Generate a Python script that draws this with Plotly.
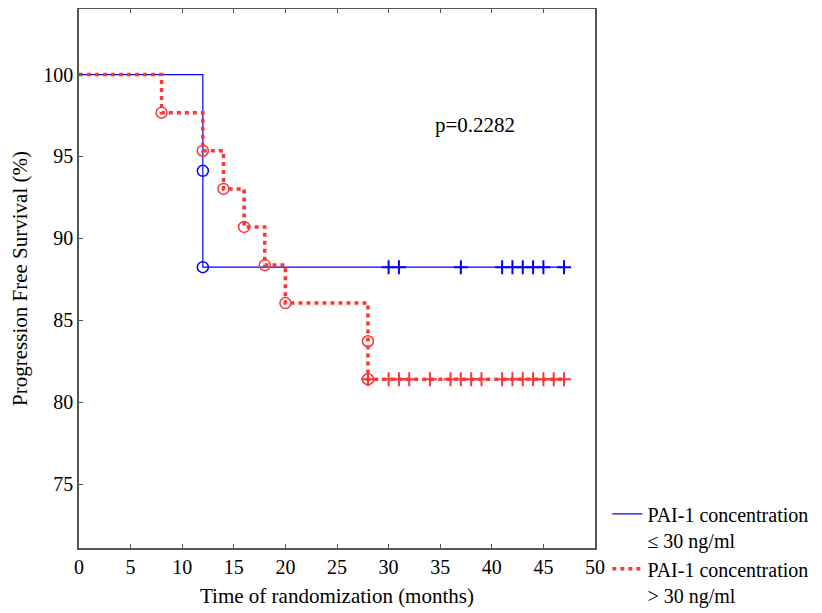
import plotly.graph_objects as go

# ---- data ----
blue_name = "PAI-1 concentration<br>≤ 30 ng/ml"
red_name = "PAI-1 concentration<br>> 30 ng/ml"

blue_event_t = [12, 12]
blue_event_s = [94.12, 88.24]
blue_end_t = 47
blue_cens_t = [30, 31, 37, 41, 42, 43, 44, 45, 47]

red_event_t = [8, 12, 14, 16, 18, 20, 28, 28]
red_event_s = [97.67, 95.35, 93.02, 90.70, 88.37, 86.05, 83.72, 81.40]
red_end_t = 47
red_cens_t = [28, 30, 31, 32, 34, 36, 37, 38, 39, 41, 42, 43, 44, 45, 46, 47]

x_ticks = list(range(0, 51, 5))
y_ticks = [75, 80, 85, 90, 95, 100]
p_text = "p=0.2282"

BLUE = "#0000ff"
RED = "#ff3535"
FONT = "Liberation Serif"

fig = go.Figure()

def step(ev_t, ev_s, end_t):
    x = [0] + ev_t + [end_t]
    y = [100] + ev_s + [ev_s[-1]]
    return x, y

bx, by = step(blue_event_t, blue_event_s, blue_end_t)
rx, ry = step(red_event_t, red_event_s, red_end_t)

fig.add_trace(go.Scatter(x=bx, y=by, mode="lines", line=dict(color=BLUE, width=1.2, shape="hv"),
                         name=blue_name, legendrank=1))
fig.add_trace(go.Scatter(x=rx, y=ry, mode="lines",
                         line=dict(color=RED, width=3.5, shape="hv", dash="4px,4px"),
                         name=red_name, legendrank=2))

# event circles
fig.add_trace(go.Scatter(x=blue_event_t, y=blue_event_s, mode="markers", showlegend=False,
                         marker=dict(symbol="circle-open", size=11, color=BLUE, line=dict(width=1.5))))
fig.add_trace(go.Scatter(x=red_event_t, y=red_event_s, mode="markers", showlegend=False,
                         marker=dict(symbol="circle-open", size=11, color=RED, line=dict(width=1.5))))
# censor marks
fig.add_trace(go.Scatter(x=blue_cens_t, y=[blue_event_s[-1]] * len(blue_cens_t), mode="markers",
                         showlegend=False,
                         marker=dict(symbol="cross-thin", size=10, color=BLUE, line=dict(width=2, color=BLUE))))
fig.add_trace(go.Scatter(x=red_cens_t, y=[red_event_s[-1]] * len(red_cens_t), mode="markers",
                         showlegend=False,
                         marker=dict(symbol="cross-thin", size=10, color=RED, line=dict(width=2, color=RED))))

fig.add_annotation(x=38.4, y=96.95, text=p_text, showarrow=False,
                   font=dict(family=FONT, size=21, color="black"))

axis_common = dict(showgrid=False, zeroline=False, showline=True, linecolor="#555", linewidth=1.5,
                   ticks="inside", ticklen=4, tickcolor="#555", tickwidth=1, automargin=False,
                   tickfont=dict(family=FONT, size=20, color="black"))
fig.update_xaxes(range=[0, 50], tickvals=x_ticks, mirror="ticks",
                 title=dict(text="Time of randomization (months)", font=dict(family=FONT, size=21, color="black"),
                            standoff=12),
                 **axis_common)
fig.update_yaxes(range=[71.1, 104], tickvals=y_ticks, mirror=True,
                 title=dict(text="Progression Free Survival (%)", font=dict(family=FONT, size=21, color="black"),
                            standoff=12),
                 **axis_common)

fig.update_layout(
    width=822, height=613,
    margin=dict(l=71, r=235, t=1, b=73, autoexpand=False),
    plot_bgcolor="white", paper_bgcolor="white",
    font=dict(family=FONT, size=21, color="black"),
    legend=dict(x=1.024, y=-0.123, xanchor="left", yanchor="bottom", valign="top",
                itemwidth=30, font=dict(family=FONT, size=20, color="black"),
                bgcolor="rgba(0,0,0,0)", traceorder="normal"),
)

fig.write_html("out.html")
